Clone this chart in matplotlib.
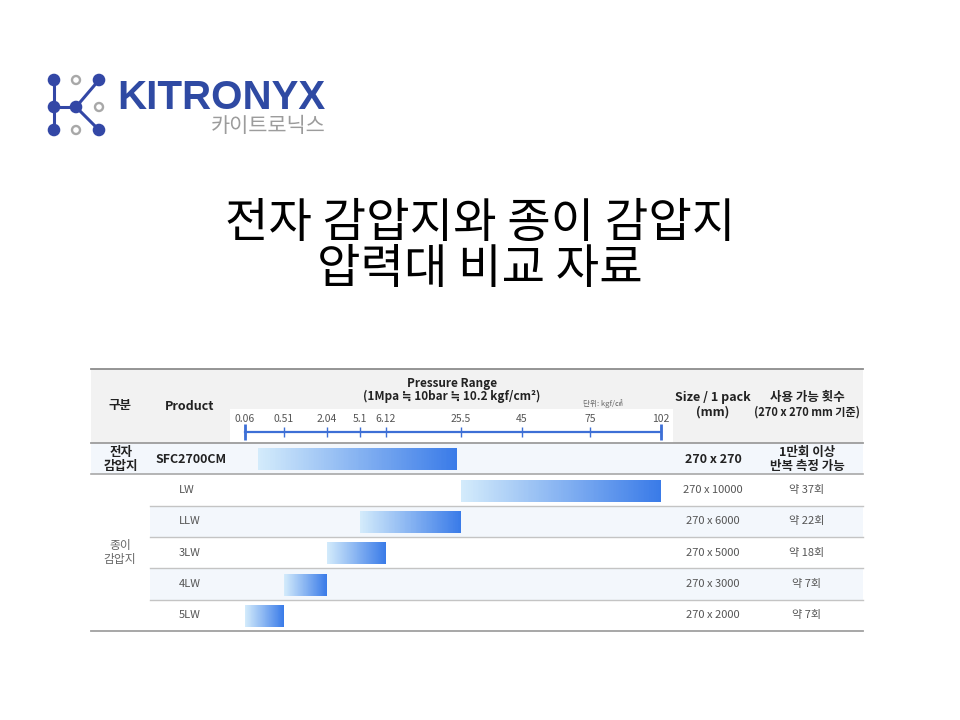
import numpy as np
import matplotlib
matplotlib.use("Agg")
import matplotlib.pyplot as plt
from matplotlib.patches import Rectangle, Circle
from matplotlib.colors import LinearSegmentedColormap
from matplotlib.ticker import NullFormatter

plt.rcParams['font.family'] = ['Noto Sans CJK KR', 'DejaVu Sans']

# ---------------- data ----------------
categories = ['전자\n감압지', '종이\n감압지']
products = ['SFC2700CM', 'LW', 'LLW', '3LW', '4LW', '5LW']
range_low = [0.21, 25.5, 5.1, 2.04, 0.51, 0.06]
range_high = [24.5, 102, 25.5, 6.12, 2.04, 0.51]
sizes = ['270 x 270', '270 x 10000', '270 x 6000', '270 x 5000', '270 x 3000', '270 x 2000']
uses = ['1만회 이상\n반복 측정 가능', '약 37회', '약 22회', '약 18회', '약 7회', '약 7회']
tick_values = [0.06, 0.51, 2.04, 5.1, 6.12, 25.5, 45, 75, 102]
tick_labels = ['0.06', '0.51', '2.04', '5.1', '6.12', '25.5', '45', '75', '102']
# non-uniform scale: position of each tick along the axis (pixels)
tick_pos = [245, 284, 327, 360, 386, 461, 522, 590, 661]

# ---------------- layout ----------------
W, H = 960, 720
X0, X1 = 91, 863
HEAD_TOP, ROW_TOP, ROW_BOT = 369, 443, 631
ROW_H = (ROW_BOT - ROW_TOP) / len(products)
SUB_X = 150
BLUE_AX = '#3d6fd6'
ROW_TINT = '#f3f7fc'

fig = plt.figure(figsize=(9.6, 7.2), dpi=100)
bg = fig.add_axes([0, 0, 1, 1])
bg.set_xlim(0, W)
bg.set_ylim(H, 0)
bg.axis('off')

# ---- logo ----
lb = '#3347a6'
for (xa, ya, xb, yb) in [(54, 80, 54, 130), (54, 107, 76, 107), (76, 107, 99, 80), (76, 107, 99, 130)]:
    bg.plot([xa, xb], [ya, yb], color=lb, lw=2.2, solid_capstyle='round', zorder=2)
for (cx, cy) in [(54, 80), (54, 107), (54, 130), (76, 107), (99, 80), (99, 130)]:
    bg.add_patch(Circle((cx, cy), 6.3, facecolor=lb, edgecolor='none', zorder=3))
for (cx, cy) in [(76, 80), (99, 107), (76, 130)]:
    bg.add_patch(Circle((cx, cy), 4.0, facecolor='white', edgecolor='#a8a8a8', lw=1.7, zorder=3))
bg.text(117, 109, 'KITRONYX', family='Liberation Sans', fontweight='bold', fontsize=29,
        color='#2f4aa3', ha='left', va='baseline')
bg.text(326, 132, '카이트로닉스', fontsize=15, fontweight='medium', color='#9c9c9c',
        ha='right', va='baseline')

# ---- title ----
bg.text(480, 224, '전자 감압지와 종이 감압지', fontsize=34, fontweight='light',
        ha='center', va='center', color='black')
bg.text(480, 270, '압력대 비교 자료', fontsize=34, fontweight='light',
        ha='center', va='center', color='black')

# ---- table backgrounds ----
bg.add_patch(Rectangle((X0, HEAD_TOP), X1 - X0, ROW_TOP - HEAD_TOP, facecolor='#f2f2f2', edgecolor='none'))
bg.add_patch(Rectangle((230, 409), 443, ROW_TOP - 409, facecolor='white', edgecolor='none'))
bg.add_patch(Rectangle((X0, ROW_TOP), X1 - X0, ROW_H, facecolor=ROW_TINT, edgecolor='none'))
for i in (2, 4):
    bg.add_patch(Rectangle((SUB_X, ROW_TOP + i * ROW_H), X1 - SUB_X, ROW_H, facecolor=ROW_TINT, edgecolor='none'))

# ---- table lines ----
bg.plot([X0, X1], [HEAD_TOP, HEAD_TOP], color='#8c8c8c', lw=1.3)
bg.plot([X0, X1], [ROW_TOP, ROW_TOP], color='#9c9c9c', lw=1.3)
bg.plot([X0, X1], [ROW_TOP + ROW_H] * 2, color='#a8a8a8', lw=1.2)
for i in range(2, len(products)):
    y = ROW_TOP + i * ROW_H
    bg.plot([SUB_X, X1], [y, y], color='#c4c4c4', lw=1.0)
bg.plot([X0, X1], [ROW_BOT, ROW_BOT], color='#a0a0a0', lw=1.3)

# ---- header text ----
hd = dict(fontweight='bold', color='#222222', ha='center', va='center')
bg.text(120, 406, '구분', fontsize=9, **hd)
bg.text(190, 406, 'Product', fontsize=9, **hd)
bg.text(452, 383, 'Pressure Range', fontsize=8.5, **hd)
bg.text(452, 396, '(1Mpa ≒ 10bar ≒ 10.2 kgf/cm²)', fontsize=8.5, **hd)
bg.text(603, 404, '단위: kgf/㎠', fontsize=5.5, color='#666666', ha='center', va='center')
bg.text(713, 397, 'Size / 1 pack', fontsize=9, **hd)
bg.text(713, 412, '(mm)', fontsize=9, **hd)
bg.text(807, 397, '사용 가능 횟수', fontsize=9, **hd)
bg.text(807, 412, '(270 x 270 mm 기준)', fontsize=8, **hd)

# ---- row text ----
def row_c(i):
    return ROW_TOP + (i + 0.5) * ROW_H

bg.text(121, row_c(0) + 1, categories[0], fontsize=9, fontweight='bold', color='#222222',
        ha='center', va='center', linespacing=1.05)
bg.text(120, (row_c(1) + row_c(len(products) - 1)) / 2, categories[1], fontsize=8.5,
        color='#666666', ha='center', va='center', linespacing=1.15)
for i, (p, s, u) in enumerate(zip(products, sizes, uses)):
    yc = row_c(i)
    if i == 0:
        bg.text(155, yc + 1, p, fontsize=9, fontweight='bold', color='#222222', ha='left', va='center')
        bg.text(713, yc + 1, s, fontsize=9, fontweight='bold', color='#222222', ha='center', va='center')
        bg.text(807, yc + 1, u, fontsize=9, fontweight='bold', color='#222222', ha='center', va='center',
                linespacing=1.15)
    else:
        bg.text(179, yc, p, fontsize=8, color='#555555', ha='left', va='center')
        bg.text(713, yc, s, fontsize=8, color='#555555', ha='center', va='center')
        bg.text(807, yc, u, fontsize=8, color='#555555', ha='center', va='center')

# ---------------- bar axes with piecewise-linear pressure scale ----------------
def fwd(v):
    return np.interp(v, tick_values, tick_pos)

def inv(p):
    return np.interp(p, tick_pos, tick_values)

ax = fig.add_axes([tick_pos[0] / W, 1 - ROW_BOT / H, (tick_pos[-1] - tick_pos[0]) / W, (ROW_BOT - ROW_TOP) / H])
ax.set_xscale('function', functions=(fwd, inv))
ax.set_xlim(tick_values[0], tick_values[-1])
ax.set_ylim(len(products), 0)
ax.patch.set_alpha(0)

cmap = LinearSegmentedColormap.from_list('grad', ['#d3ebfb', '#3a7be8'])
n = 120
cols = cmap(np.linspace(0, 1, n))
for i, (lo, hi) in enumerate(zip(range_low, range_high)):
    edges = inv(np.linspace(fwd(lo), fwd(hi), n + 1))
    ax.barh(np.full(n, i + 0.52), np.diff(edges), left=edges[:-1], height=0.70,
            color=cols, linewidth=0, antialiased=False)

ax.set_yticks([])
for s in ('left', 'right', 'bottom'):
    ax.spines[s].set_visible(False)
ax.spines['top'].set_position(('outward', 7.6))
ax.spines['top'].set_color(BLUE_AX)
ax.spines['top'].set_linewidth(1.6)
ax.xaxis.set_ticks_position('top')
ax.xaxis.remove_overlapping_locs = False
ax.set_xticks(tick_values, tick_labels)
ax.set_xticks([tick_values[0], tick_values[-1]], minor=True)
ax.xaxis.set_minor_formatter(NullFormatter())
ax.tick_params(axis='x', which='major', direction='inout', length=7, width=1, color=BLUE_AX,
               labelsize=7.5, labelcolor='#555555', pad=2.5)
ax.tick_params(axis='x', which='minor', direction='inout', length=12, width=2, color=BLUE_AX)

fig.savefig('out.png', dpi=100)
